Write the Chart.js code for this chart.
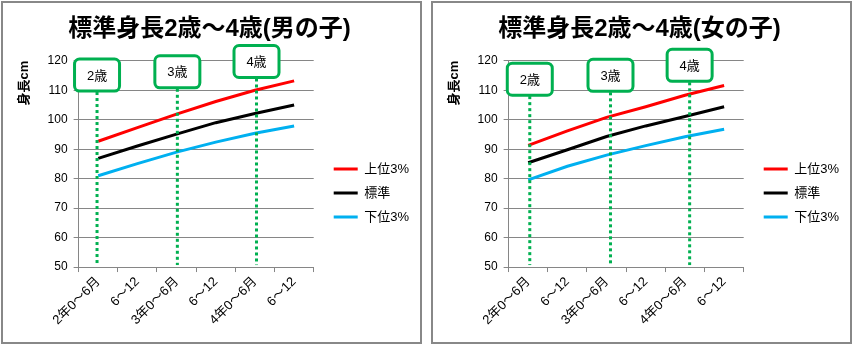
<!DOCTYPE html>
<html>
<head>
<meta charset="utf-8">
<script src="https://cdn.jsdelivr.net/npm/chart.js@4.4.0/dist/chart.umd.min.js"></script>
<style>
    body { margin: 0; background: #fff; width: 854px; height: 347px; position: relative; overflow: hidden; }
    .panel { position: absolute; top: 1px; width: 421px; height: 343px; border: 2px solid #888; box-sizing: border-box; background: #fff; }
    #panelBoys { left: 1px; }
    #panelGirls { left: 431px; }
    canvas { display: block; }
</style>
</head>
<body>
<div class="panel" id="panelBoys"><canvas id="chartBoys" width="417" height="339"></canvas></div>
<div class="panel" id="panelGirls"><canvas id="chartGirls" width="417" height="339"></canvas></div>
<script>
// Categories (x axis)
const ageLabels = ["2年0～6月", "6～12", "3年0～6月", "6～12", "4年0～6月", "6～12"];
const seriesNames = ["上位3%", "標準", "下位3%"];
const yTicks = { min: 50, max: 120, step: 10 };

// Boys height (cm)
const boysTop = [92.7, 97.3, 101.9, 106.2, 110.0, 113.2];
const boysMid = [86.9, 91.1, 95.1, 99.0, 102.1, 105.0];
const boysLow = [81.0, 85.1, 89.0, 92.4, 95.4, 97.9];

// Girls height (cm)
const girlsTop = [91.3, 96.2, 100.8, 104.4, 108.3, 111.6];
const girlsMid = [85.4, 89.8, 94.3, 97.9, 101.1, 104.4];
const girlsLow = [79.6, 84.2, 88.0, 91.2, 94.2, 96.8];

// Age callouts: label, position on the category axis, top of the box (cm)
const calloutLabels = ["2歳", "3歳", "4歳"];
const boysCalloutAt = [-0.03, 2.02, 4.04];
const boysCalloutTop = [120.6, 121.7, 125.2];
const girlsCalloutAt = [0.04, 2.1, 4.12];
const girlsCalloutTop = [119.2, 120.5, 123.9];

const lineColors = ["#ff0000", "#000000", "#00b0f0"];
const gridColor = "#868686";
const calloutGreen = "#00b050";
const fontFamily = '"Liberation Sans", "Noto Sans CJK JP", sans-serif';

Chart.defaults.font.family = fontFamily;
Chart.defaults.color = "#000";

// Draws the green age boxes with dotted lines down to the axis
const calloutPlugin = {
    id: "ageCallouts",
    afterDatasetsDraw(chart, args, opts) {
        const { ctx, scales: { x, y } } = chart;
        ctx.save();
        opts.labels.forEach((label, i) => {
            const px = x.getPixelForValue(opts.at[i]);
            const top = y.getPixelForValue(opts.top[i]);
            const w = 45, h = 32;
            const bottom = top + h;

            // dotted line
            ctx.beginPath();
            ctx.setLineDash([3, 3]);
            ctx.lineWidth = 3;
            ctx.strokeStyle = calloutGreen;
            ctx.moveTo(px, bottom + 1);
            ctx.lineTo(px, y.getPixelForValue(yTicks.min) - 2);
            ctx.stroke();
            ctx.setLineDash([]);

            // box
            ctx.beginPath();
            ctx.roundRect(px - w / 2, top, w, h, 5);
            ctx.fillStyle = "#fff";
            ctx.fill();
            ctx.lineWidth = 3;
            ctx.strokeStyle = calloutGreen;
            ctx.stroke();

            ctx.fillStyle = "#000";
            ctx.font = "13px " + fontFamily;
            ctx.textAlign = "center";
            ctx.textBaseline = "middle";
            ctx.fillText(label, px, top + h / 2 + 1);
        });
        ctx.restore();
    },
};

// Moves the legend next to the plot, like the original
const legendPlacePlugin = {
    id: "legendPlace",
    beforeDraw(chart) {
        const legend = chart.legend;
        legend.left = chart.chartArea.right + 9;
        legend.top = 148.5;
    },
};

function makeChart(canvasId, titleText, top, mid, low, calloutAt, calloutTop) {
    const ctx = document.getElementById(canvasId).getContext("2d");
    const values = [top, mid, low];

    return new Chart(ctx, {
        type: "line",
        data: {
            labels: ageLabels,
            datasets: seriesNames.map((name, i) => ({
                label: name,
                data: values[i],
                borderColor: lineColors[i],
                backgroundColor: lineColors[i],
                borderWidth: 3,
                pointRadius: 0,
                tension: 0,
                fill: false,
            })),
        },
        options: {
            responsive: false,
            animation: false,
            devicePixelRatio: 1,
            layout: {
                padding: { left: 6, right: 10, top: 2, bottom: 12 },
            },
            scales: {
                x: {
                    offset: true,
                    grid: {
                        offset: true,
                        drawOnChartArea: false,
                        color: gridColor,
                        tickLength: 5,
                    },
                    border: { color: gridColor },
                    ticks: {
                        autoSkip: false,
                        maxRotation: 45,
                        minRotation: 45,
                        padding: 2,
                        font: { size: 13 },
                    },
                },
                y: {
                    min: yTicks.min,
                    max: yTicks.max,
                    grid: { color: gridColor, tickLength: 5 },
                    border: { color: gridColor },
                    ticks: {
                        stepSize: yTicks.step,
                        padding: 6,
                        font: { size: 12 },
                    },
                    title: {
                        display: true,
                        text: "身長cm",
                        align: "end",
                        font: { size: 13, weight: "bold" },
                        padding: { top: 8, bottom: 9 },
                    },
                },
            },
            plugins: {
                title: {
                    display: true,
                    text: titleText,
                    color: "#000",
                    font: { size: 24, weight: "bold" },
                    padding: { top: 10, bottom: 17 },
                },
                legend: {
                    position: "right",
                    align: "start",
                    fullSize: false,
                    labels: {
                        usePointStyle: true,
                        pointStyle: "line",
                        pointStyleWidth: 24,
                        padding: 11,
                        font: { size: 13 },
                    },
                },
                tooltip: { enabled: false },
                ageCallouts: {
                    labels: calloutLabels,
                    at: calloutAt,
                    top: calloutTop,
                },
            },
        },
        plugins: [calloutPlugin, legendPlacePlugin],
    });
}

makeChart("chartBoys", "標準身長2歳～4歳(男の子)", boysTop, boysMid, boysLow, boysCalloutAt, boysCalloutTop);
makeChart("chartGirls", "標準身長2歳～4歳(女の子)", girlsTop, girlsMid, girlsLow, girlsCalloutAt, girlsCalloutTop);
</script>
</body>
</html>
